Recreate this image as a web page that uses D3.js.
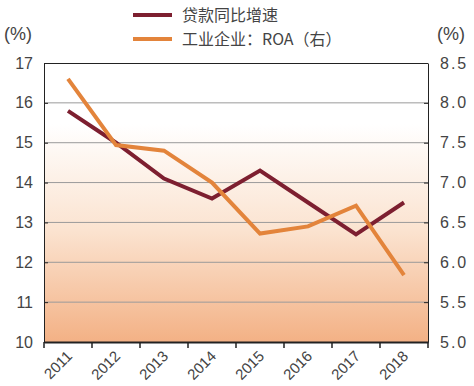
<!DOCTYPE html>
<html>
<head>
<meta charset="utf-8">
<script src="https://cdn.jsdelivr.net/npm/d3@7"></script>
<style>
  body { margin: 0; background: #fff; }
  svg text { font-family: "Liberation Sans", "Noto Sans CJK SC", sans-serif; fill: #444; }
  .cjk { font-family: "Noto Sans CJK SC", sans-serif; }
</style>
</head>
<body>
<div id="chart"></div>
<script>
// chart data
const years = ['2011', '2012', '2013', '2014', '2015', '2016', '2017', '2018'];
const loanGrowth = [15.8, 15.0, 14.1, 13.6, 14.3, 13.5, 12.7, 13.5];
const roa = [8.3, 7.47, 7.4, 7.0, 6.36, 6.45, 6.71, 5.84];
const leftTicks = [10, 11, 12, 13, 14, 15, 16, 17];
const rightTicks = [5.0, 5.5, 6.0, 6.5, 7.0, 7.5, 8.0, 8.5];
const seriesNames = ['贷款同比增速', '工业企业：ROA（右）'];
const seriesColors = ['#7d1f30', '#e3843b'];

const width = 474, height = 386;
const margin = { top: 63, right: 46, bottom: 44, left: 44 };
const innerW = width - margin.left - margin.right;
const innerH = height - margin.top - margin.bottom;

const svg = d3.select('#chart').append('svg')
  .attr('width', width)
  .attr('height', height);

// background gradient
const grad = svg.append('defs').append('linearGradient')
  .attr('id', 'bg').attr('x1', 0).attr('y1', 0).attr('x2', 0).attr('y2', 1);
grad.append('stop').attr('offset', '0%').attr('stop-color', '#ffffff');
grad.append('stop').attr('offset', '22%').attr('stop-color', '#ffffff');
grad.append('stop').attr('offset', '60%').attr('stop-color', '#fbe3d0');
grad.append('stop').attr('offset', '100%').attr('stop-color', '#f3b185');

const g = svg.append('g').attr('transform', `translate(${margin.left},${margin.top})`);

const x = d3.scaleBand().domain(years).range([0, innerW]);
const yL = d3.scaleLinear().domain([10, 17]).range([innerH, 0]);
const yR = d3.scaleLinear().domain([5, 8.5]).range([innerH, 0]);

g.append('rect').attr('width', innerW).attr('height', innerH).attr('fill', 'url(#bg)');

// gridlines
g.append('g').selectAll('line')
  .data(leftTicks.slice(1, -1))
  .enter().append('line')
  .attr('x1', 0).attr('x2', innerW)
  .attr('y1', d => yL(d)).attr('y2', d => yL(d))
  .attr('stroke', '#9a9a9a').attr('stroke-width', 1);

// top border
g.append('line').attr('x1', 0).attr('x2', innerW).attr('y1', 0.5).attr('y2', 0.5)
  .attr('stroke', '#222').attr('stroke-width', 1);

// left axis (ticks inward)
const leftAxis = g.append('g')
  .call(d3.axisLeft(yL).tickValues(leftTicks).tickFormat(d3.format('d'))
    .tickSizeInner(-4).tickSizeOuter(0).tickPadding(11));
leftAxis.select('.domain').attr('stroke', '#222');
leftAxis.selectAll('.tick line').attr('stroke', '#222');
leftAxis.selectAll('.tick text').attr('font-size', 16).attr('fill', '#444');

// right axis (ticks inward)
const rightAxis = g.append('g').attr('transform', `translate(${innerW},0)`)
  .call(d3.axisRight(yR).tickValues(rightTicks).tickFormat(d3.format('.1f'))
    .tickSizeInner(-4).tickSizeOuter(0).tickPadding(12));
rightAxis.select('.domain').attr('stroke', '#222');
rightAxis.selectAll('.tick line').attr('stroke', '#222');
rightAxis.selectAll('.tick text').attr('font-size', 16).attr('fill', '#444')
  .attr('letter-spacing', 2);

// bottom axis
const bottomAxis = g.append('g').attr('transform', `translate(0,${innerH})`)
  .call(d3.axisBottom(x).tickSize(0));
bottomAxis.select('.domain').attr('stroke', '#222').attr('stroke-width', 2);
bottomAxis.selectAll('.tick text')
  .attr('font-size', 15).attr('fill', '#444')
  .attr('text-anchor', 'end')
  .attr('dx', 0).attr('dy', 0)
  .attr('transform', 'translate(3,13) rotate(-45)');
// boundary ticks at band edges
bottomAxis.selectAll('.edge')
  .data(d3.range(years.length + 1))
  .enter().append('line')
  .attr('x1', i => i * x.step()).attr('x2', i => i * x.step())
  .attr('y1', 0).attr('y2', 6)
  .attr('stroke', '#222').attr('stroke-width', 1.5);

// series lines
const lineL = d3.line().x((d, i) => x(years[i]) + x.bandwidth() / 2).y(d => yL(d));
const lineR = d3.line().x((d, i) => x(years[i]) + x.bandwidth() / 2).y(d => yR(d));

g.append('path').datum(loanGrowth)
  .attr('d', lineL).attr('fill', 'none')
  .attr('stroke', seriesColors[0]).attr('stroke-width', 4);

g.append('path').datum(roa)
  .attr('d', lineR).attr('fill', 'none')
  .attr('stroke', seriesColors[1]).attr('stroke-width', 4);

// unit labels
svg.append('text').attr('x', 4).attr('y', 40).attr('font-size', 18).text('(%)');
svg.append('text').attr('x', 437).attr('y', 40).attr('font-size', 18).text('(%)');

// legend
const legend = svg.append('g');
seriesNames.forEach((name, i) => {
  const ly = 15 + i * 24;
  legend.append('line')
    .attr('x1', 133).attr('x2', 172).attr('y1', ly).attr('y2', ly)
    .attr('stroke', seriesColors[i]).attr('stroke-width', 4);
  legend.append('text')
    .attr('class', 'cjk')
    .attr('x', 182).attr('y', ly + 6)
    .attr('font-size', 16).attr('fill', '#444')
    .text(name);
});
</script>
</body>
</html>
